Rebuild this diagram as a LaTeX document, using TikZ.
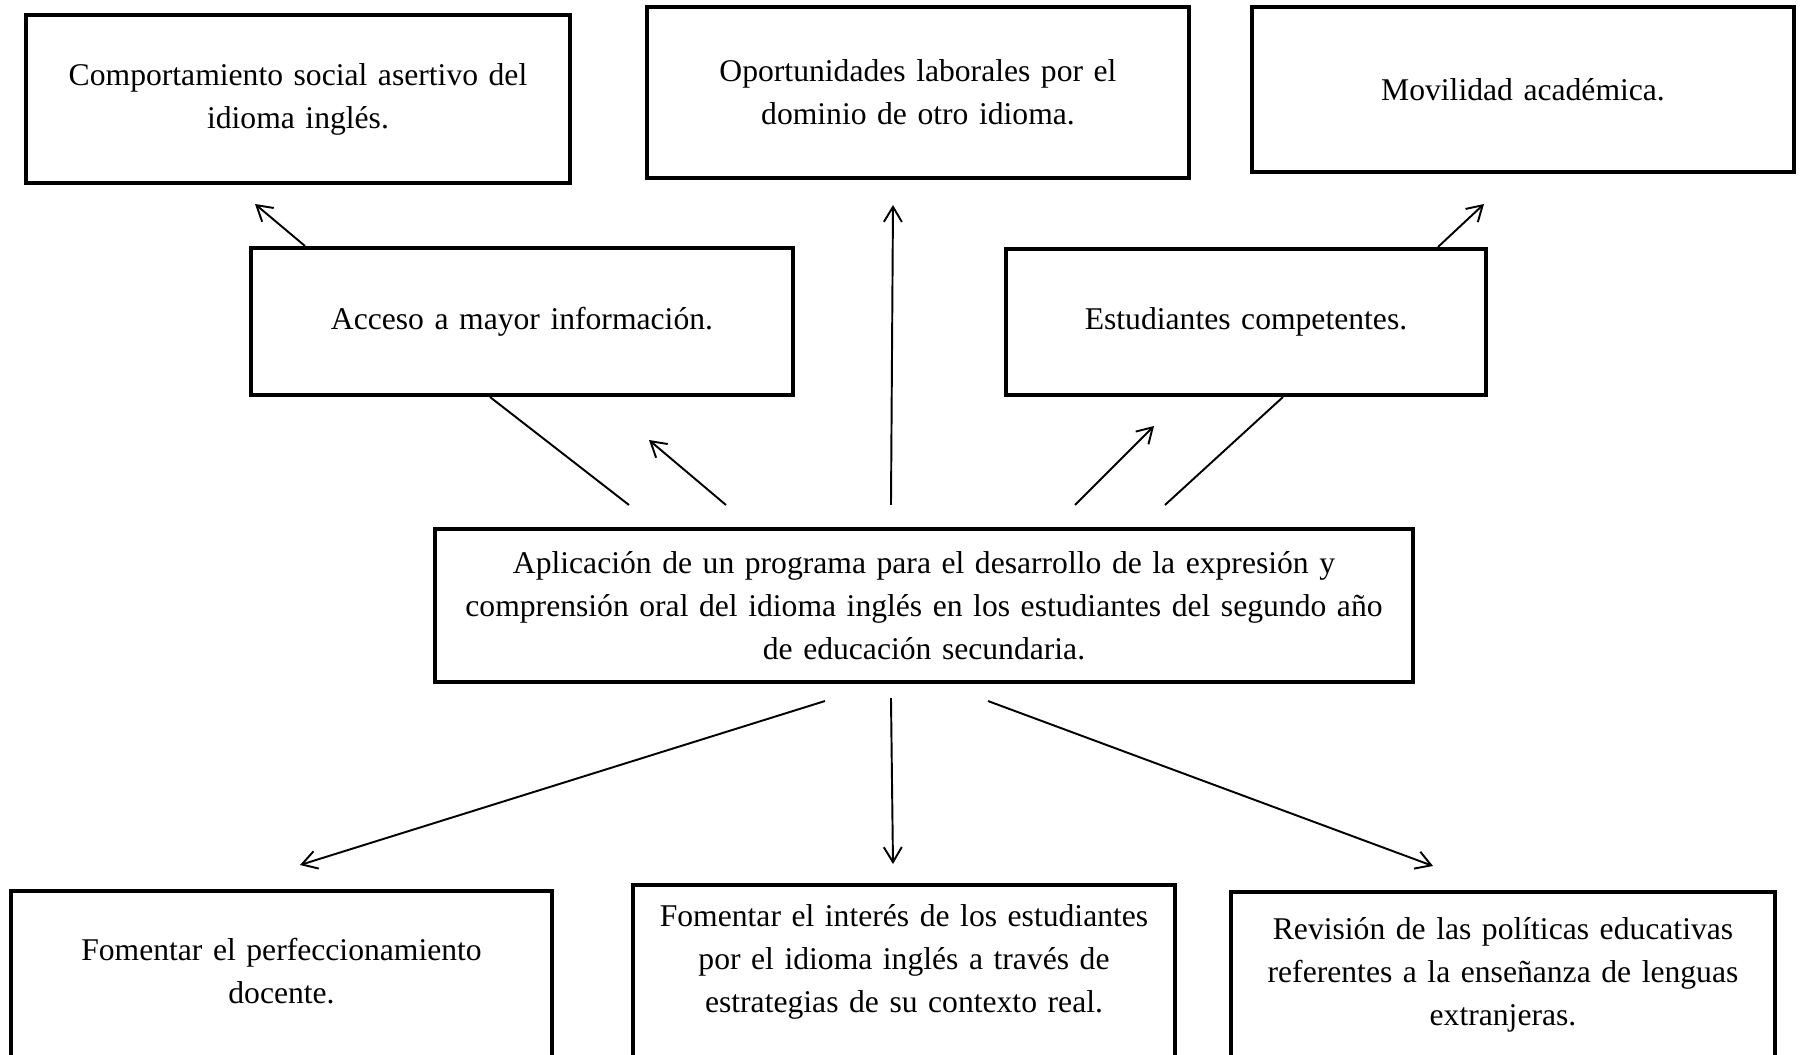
\documentclass[tikz,border=0pt]{standalone}
\usepackage{fontspec}
\setmainfont{Liberation Serif}
\usetikzlibrary{arrows.meta}

\tikzset{
  caja/.style={draw, line width=2.3pt, inner sep=0pt, align=center,
    font=\fontsize{18}{24.5}\selectfont},
  linea/.style={line width=1.1pt},
  flecha/.style={linea, -{Straight Barb[length=0.3cm,width=0.36cm]}},
}

\begin{document}
\begin{tikzpicture}
\useasboundingbox (0,0) rectangle (36.02,-21.1);
\clip (0,0) rectangle (36.02,-21.1);

% Fila superior
\node[caja, text width=10.88cm, minimum height=3.36cm] (social) at (5.96,-1.98)
  {Comportamiento social asertivo del\\idioma inglés.};
\node[caja, text width=10.84cm, minimum height=3.42cm] (laboral) at (18.36,-1.85)
  {Oportunidades laborales por el\\dominio de otro idioma.};
\node[caja, text width=10.84cm, minimum height=3.30cm] (movil) at (30.46,-1.79)
  {Movilidad académica.};

% Fila intermedia
\node[caja, text width=10.84cm, minimum height=2.94cm] (acceso) at (10.44,-6.43)
  {Acceso a mayor información.};
\node[caja, text width=9.60cm, minimum height=2.92cm] (compet) at (24.92,-6.44)
  {Estudiantes competentes.};

% Propuesta central
\node[caja, text width=19.56cm, minimum height=3.06cm] (prog) at (18.48,-12.11)
  {Aplicación de un programa para el desarrollo de la expresión y\\
   comprensión oral del idioma inglés en los estudiantes del segundo año\\
   de educación secundaria.};

% Fila inferior (cortada por el borde)
\node[caja, anchor=north, text width=10.82cm, text height=1.38cm, text depth=2.1cm] (docente) at (5.63,-17.78)
  {Fomentar el perfeccionamiento\\docente.};
\node[caja, anchor=north, text width=10.84cm, text height=0.82cm, text depth=2.8cm] (interes) at (18.08,-17.66)
  {Fomentar el interés de los estudiantes\\por el idioma inglés a través de\\estrategias de su contexto real.};
\node[caja, anchor=north, text width=10.88cm, text height=0.94cm, text depth=2.5cm] (revision) at (30.06,-17.80)
  {Revisión de las políticas educativas\\referentes a la enseñanza de lenguas\\extranjeras.};

% Puntas libres de las flechas
\coordinate (p1) at (5.10,-4.08);
\coordinate (p2) at (12.98,-8.80);
\coordinate (p3) at (17.86,-4.10);
\coordinate (p4) at (23.08,-8.52);
\coordinate (p5) at (29.68,-4.08);
\coordinate (p6) at (6.00,-17.30);
\coordinate (p7) at (17.86,-17.28);
\coordinate (p8) at (28.66,-17.32);

% Hacia arriba
\draw[flecha] ([xshift=1.12cm]acceso.north west) -- (p1);
\draw[linea] ([shift={(3.92,0.44)}]prog.north west) -- ([xshift=4.82cm]acceso.south west);
\draw[flecha] ([shift={(5.86,0.44)}]prog.north west) -- (p2);
\draw[flecha] ([shift={(9.16,0.44)}]prog.north west) -- (p3);
\draw[flecha] ([shift={(12.84,0.44)}]prog.north west) -- (p4);
\draw[linea] ([shift={(14.64,0.44)}]prog.north west) -- ([xshift=5.58cm]compet.south west);
\draw[flecha] ([xshift=8.68cm]compet.north west) -- (p5);

% Hacia abajo
\draw[flecha] ([shift={(7.84,-0.34)}]prog.south west) -- (p6);
\draw[flecha] ([shift={(9.16,-0.28)}]prog.south west) -- (p7);
\draw[flecha] ([shift={(11.10,-0.34)}]prog.south west) -- (p8);
\end{tikzpicture}
\end{document}
